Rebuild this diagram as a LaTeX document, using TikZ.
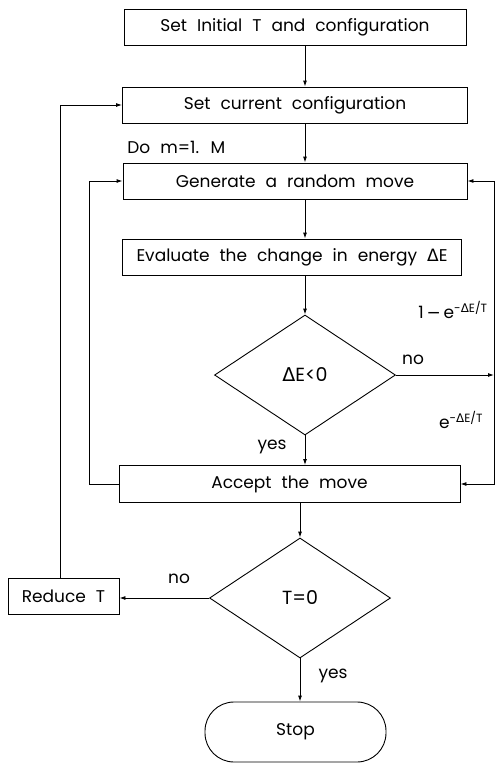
\documentclass[tikz,border=0pt]{standalone}
\usepackage{fontspec}
\setmainfont{Poppins}[WordSpace=2.2]
\newfontfamily\grk{DejaVu Sans}
\newcommand{\dE}{{\grk Δ}E}
\usetikzlibrary{shapes.geometric,arrows.meta}

\begin{document}
\begin{tikzpicture}[x=1pt, y=-1pt, >={Latex[length=6pt,width=4pt]},
    font=\fontsize{17}{19}\selectfont, line width=0.9pt,
    box/.style={draw, rectangle, minimum height=36pt, inner sep=0pt},
    decision/.style={draw, diamond, aspect=1.5, inner sep=0pt, minimum width=181pt, minimum height=120pt, font=\fontsize{19}{21}\selectfont},
    term/.style={draw, rectangle, rounded corners=29pt, minimum width=181pt, minimum height=60pt},
    lbl/.style={inner sep=1pt}]
    \useasboundingbox (0,0) rectangle (498,764);

    % main column
    \node[box, minimum width=342pt] (init) at (295,27) {Set Initial T and configuration};
    \node[box, minimum width=345pt] (cur) at (295,105) {Set current configuration};
    \node[box, minimum width=344pt] (gen) at (295,181) {Generate a random move};
    \node[box, minimum width=339pt] (eval) at (292,257) {Evaluate the change in energy \dE};
    \node[decision] (dE) at (305,375) {\dE<0};
    \node[box, minimum width=341pt, minimum height=37pt] (acc) at (289.5,484) {Accept the move};
    \node[decision] (Tz) at (300,598) {T=0};
    \node[box, minimum width=111pt] (red) at (63.5,596) {Reduce T};
    \node[term] (stop) at (295.5,732) {Stop};

    % labels
    \node[lbl, anchor=west] (doloop) at (126,147) {Do m=1. M};
    \node[lbl] (pno) at (413,360) {no};
    \node[lbl] (pyes) at (272,447) {yes};
    \node[lbl] (prej) at (453,310) {1\,{\grk −}\,e\textsuperscript{-\dE/T}};
    \node[lbl] (pacc) at (461,420) {e\textsuperscript{-\dE/T}};
    \node[lbl] (tno) at (179,579) {no};
    \node[lbl] (tyes) at (333,676) {yes};

    % corner points
    \coordinate (rj) at (494,375);
    \coordinate (rtop) at (494,181);
    \coordinate (rbot) at (494,484);
    \coordinate (lacc) at (89,484);
    \coordinate (lgen) at (89,181);
    \coordinate (lred) at (60,105);

    % straight flow
    \draw[->] (init.south -| dE) -- (cur.north -| dE);
    \draw[->] (cur.south -| dE) -- (gen.north -| dE);
    \draw[->] (gen.south -| dE) -- (eval.north -| dE);
    \draw[->] (eval.south -| dE) -- (dE.north);
    \draw[->] (dE.south) -- (acc.north -| dE.south);
    \draw[->] (acc.south -| Tz) -- (Tz.north);
    \draw[->] (Tz.south) -- (stop.north -| Tz.south);

    % loops
    \draw[->] (dE.east) -- (rj);
    \draw[->] (rj) -- (rtop) -- (gen.east);
    \draw[->] (rj) -- (rbot) -- (acc.east);
    \draw[->] (acc.west) -- (lacc) -- (lgen) -- (gen.west);
    \draw[->] (Tz.west) -- (Tz.west -| red.east);
    \draw[->] (red.north -| lred) -- (lred) -- (cur.west);
\end{tikzpicture}
\end{document}
